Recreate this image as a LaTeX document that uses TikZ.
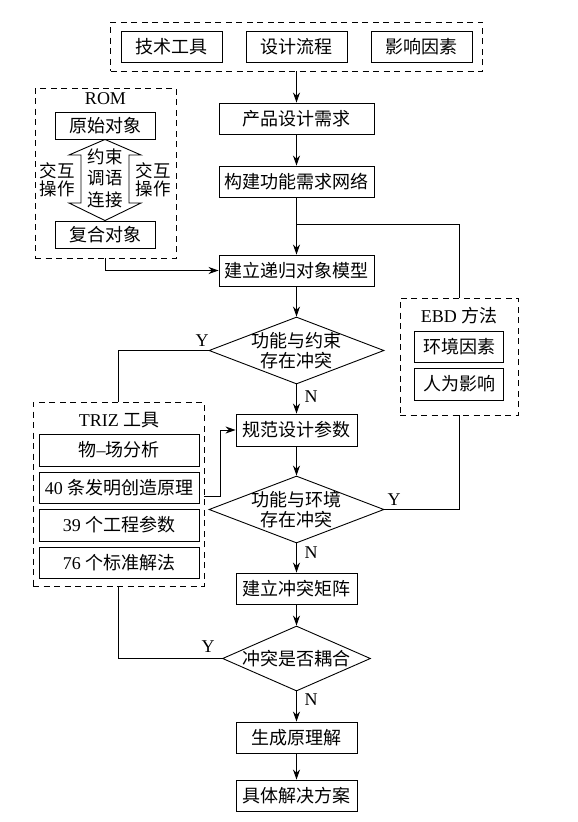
\documentclass[tikz,border=0pt]{standalone}
\usepackage{fontspec}
\setmainfont{Liberation Serif}
\newfontfamily\cjk{Noto Sans CJK SC}
\usetikzlibrary{shapes.geometric,arrows.meta}

\begin{document}
\begin{tikzpicture}[x=1pt, y=-1pt, line width=0.9pt,
		font=\cjk\fontsize{18}{20}\selectfont,
		box/.style={draw, minimum height=31, inner sep=2pt},
		dashbox/.style={draw, dash pattern=on 6pt off 4.5pt},
		check/.style={draw, shape=diamond, inner sep=-4pt, align=center},
		small/.style={font=\cjk\fontsize{17.5}{21.5}\selectfont, align=center, inner sep=0pt},
		lab/.style={font=\rmfamily\fontsize{18}{20}\selectfont, inner sep=0pt},
		arr/.style={-{Stealth[length=10pt, width=7pt]}}]
		\useasboundingbox (0,0) rectangle (578,822);
		% top group
		\node[dashbox, minimum width=372, minimum height=49] (src) at (296.5,46.5) {};
		\node[box, minimum width=101] (tool) at (171.5,46.5) {技术工具};
		\node[box, minimum width=101] (flow) at (296.5,46.5) {设计流程};
		\node[box, minimum width=101] (fact) at (421.5,46.5) {影响因素};
		% main column
		\node[box, minimum width=155] (need) at (296.5,118.5) {产品设计需求};
		\node[box, minimum width=155] (net) at (296.5,181.5) {构建功能需求网络};
		\node[box, minimum width=155] (model) at (296.5,270.5) {建立递归对象模型};
		\node[check, shape aspect=2.6, minimum width=175, minimum height=67] (d1) at (296.5,350.5) {功能与约束\\存在冲突};
		\node[box, minimum width=121, minimum height=32] (para) at (296.5,430) {规范设计参数};
		\node[check, shape aspect=2.6, minimum width=175, minimum height=67] (d2) at (296.5,509.5) {功能与环境\\存在冲突};
		\node[box, minimum width=121] (matrix) at (296.5,588.5) {建立冲突矩阵};
		\node[check, shape aspect=2.28, minimum width=148, minimum height=65] (d3) at (296.5,658.5) {冲突是否耦合};
		\node[box, minimum width=121] (princ) at (296.5,737.5) {生成原理解};
		\node[box, minimum width=121] (sol) at (296.5,795.5) {具体解决方案};
		% ROM
		\node[dashbox, minimum width=141, minimum height=170] (rom) at (105.5,173) {};
		\node[lab] (romt) at (105.5,99) {ROM};
		\node[box, minimum width=100, minimum height=27] (orig) at (105,125.5) {原始对象};
		\node[box, minimum width=100, minimum height=27] (comp) at (105,234.5) {复合对象};
		\draw (orig.south) -- (141,155) -- (129,155) -- (129,203) -- (141,203) -- (comp.north)
			-- (69,203) -- (81,203) -- (81,155) -- (69,155) -- cycle;
		\node[small] (cons) at (105,178) {约束\\调语\\连接};
		\node[small, font=\cjk\fontsize{17.5}{18.5}\selectfont] (opl) at (57,180) {交互\\操作};
		\node[small, font=\cjk\fontsize{17.5}{18.5}\selectfont] (opr) at (153,180) {交互\\操作};
		% TRIZ
		\node[dashbox, minimum width=171, minimum height=184] (triz) at (118.5,494) {};
		\node (trizt) at (119,420) {{\rmfamily TRIZ} 工具};
		\node[box, minimum width=160, minimum height=32] (b1) at (119,450) {物{\rmfamily --}场分析};
		\node[box, minimum width=160] (b2) at (119,487.5) {{\rmfamily 40} 条发明创造原理};
		\node[box, minimum width=160, minimum height=32] (b3) at (119,525) {{\rmfamily 39} 个工程参数};
		\node[box, minimum width=160] (b4) at (119,562.5) {{\rmfamily 76} 个标准解法};
		% EBD
		\node[dashbox, minimum width=118, minimum height=117] (ebd) at (459,356.5) {};
		\node (ebdt) at (459,316) {{\rmfamily EBD} 方法};
		\node[box, minimum width=89] (env) at (459,346.5) {环境因素};
		\node[box, minimum width=89, minimum height=32] (hum) at (459,384) {人为影响};
		% labels
		\node[lab] (y1) at (202,341) {Y};
		\node[lab] (n1) at (311,397) {N};
		\node[lab] (y2) at (394,500) {Y};
		\node[lab] (n2) at (311,553) {N};
		\node[lab] (y3) at (208,647) {Y};
		\node[lab] (n3) at (311,700) {N};
		% connectors
		\coordinate (br) at (296.5,224);
		\coordinate (tzout) at (204,496);
		\draw[arr] (src) -- (need);
		\draw[arr] (need) -- (net);
		\draw[arr] (net) -- (model);
		\draw (br) -| (ebd.north);
		\draw[arr] (rom.south) |- (model.west);
		\draw[arr] (model) -- (d1);
		\draw (d1.west) -| (triz.north);
		\draw[arr] (d1) -- (para);
		\draw[arr] (tzout) -- ++(16,0) |- (para.west);
		\draw[arr] (para) -- (d2);
		\draw (d2.east) -| (ebd.south);
		\draw[arr] (d2) -- (matrix);
		\draw[arr] (matrix) -- (d3);
		\draw (d3.west) -| (triz.south);
		\draw[arr] (d3) -- (princ);
		\draw[arr] (princ) -- (sol);
	\end{tikzpicture}
\end{document}
